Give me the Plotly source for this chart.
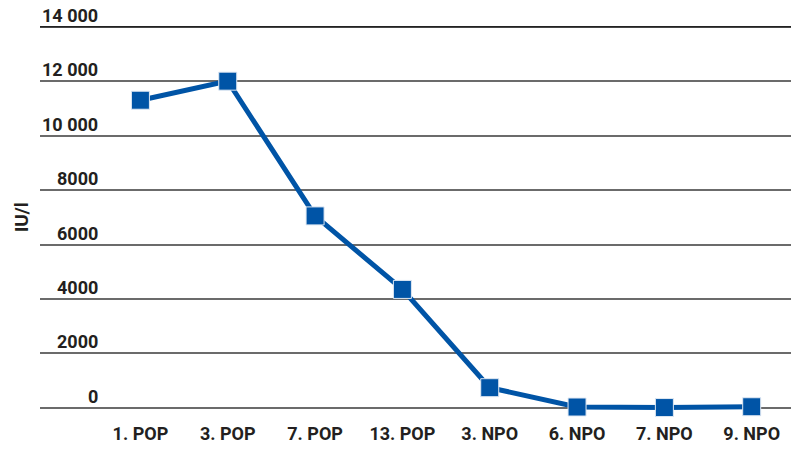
import plotly.graph_objects as go

categories = ["1. POP", "3. POP", "7. POP", "13. POP", "3. NPO", "6. NPO", "7. NPO", "9. NPO"]
values = [11300, 12000, 7050, 4350, 740, 30, 10, 40]
y_ticks = [0, 2000, 4000, 6000, 8000, 10000, 12000, 14000]
y_tick_labels = ["0", "2000", "4000", "6000", "8000", "10 000", "12 000", "14 000"]

W, H = 796, 468
ml, mr, mt, mb = 40, 5, 24, 52
xs = list(range(len(categories)))

fig = go.Figure()
fig.add_trace(go.Scatter(
    x=xs, y=values, mode="lines+markers",
    line=dict(color="#0054a6", width=5),
    marker=dict(symbol="square", size=18, color="#0054a6",
                line=dict(color="#dfe8f3", width=1)),
    cliponaxis=False, showlegend=False,
))

font_fam = "Roboto, 'Open Sans', sans-serif"
txt_col = "#231f20"

fig.update_layout(
    width=W, height=H,
    margin=dict(l=ml, r=mr, t=mt, b=mb, autoexpand=False),
    paper_bgcolor="white", plot_bgcolor="white",
    font=dict(family=font_fam, size=18, color=txt_col),
    xaxis=dict(
        range=[-1.15, 7.45], tickvals=xs, ticktext=categories,
        showgrid=False, zeroline=False, showline=False,
        ticks="", ticklabelstandoff=5,
        tickfont=dict(family=font_fam, size=18, color=txt_col, weight="bold"),
    ),
    yaxis=dict(
        range=[-300, 14100], tickvals=y_ticks, showticklabels=False,
        showgrid=True, gridcolor="#6b6b6b", gridwidth=2,
        zeroline=False, showline=False, fixedrange=True,
    ),
    shapes=[dict(type="line", xref="paper", x0=0, x1=1, yref="y",
                 y0=y_ticks[-1], y1=y_ticks[-1],
                 line=dict(color="#222222", width=1.5), layer="above")],
)

annotations = []
for v, lab in zip(y_ticks, y_tick_labels):
    annotations.append(dict(
        x=(100 - ml) / (W - ml - mr), xref="paper", y=v, yref="y",
        text=lab, showarrow=False, xanchor="right", yanchor="bottom",
        yshift=-1, font=dict(family=font_fam, size=18, color=txt_col, weight="bold"),
    ))
annotations.append(dict(
    x=(21 - ml) / (W - ml - mr), xref="paper", y=7000, yref="y",
    text="IU/l", textangle=-90, showarrow=False, xanchor="center", yanchor="middle",
    font=dict(family=font_fam, size=19, color=txt_col, weight="bold"),
))
fig.update_layout(annotations=annotations)

fig.write_html("out.html", config={"displayModeBar": False},
               post_script="document.body.style.margin='0';")
